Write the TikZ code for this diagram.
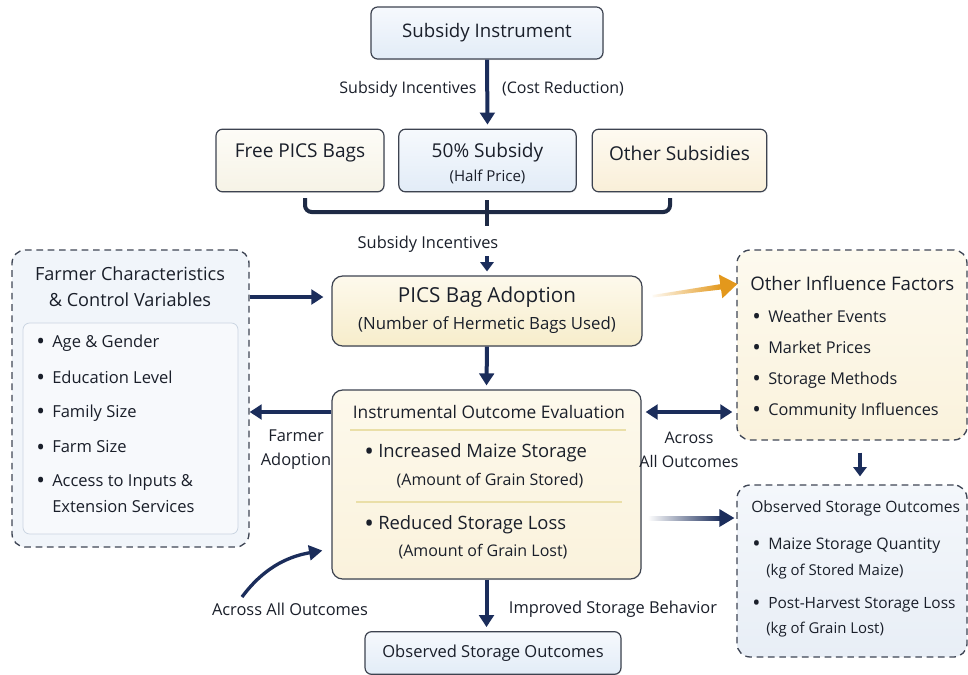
\documentclass[tikz,border=0pt]{standalone}
\usepackage{fontspec}
\setmainfont{Open Sans}
\usetikzlibrary{arrows.meta,shadows,calc}
\definecolor{navy}{HTML}{1B2D5B}
\definecolor{bord}{HTML}{3D4350}
\definecolor{dashc}{HTML}{3F4655}
\definecolor{txt}{HTML}{1A1F2A}
\definecolor{siT}{HTML}{F6F9FD}
\definecolor{siB}{HTML}{E2ECF7}
\definecolor{frT}{HTML}{FDFCF7}
\definecolor{frB}{HTML}{F6F3E6}
\definecolor{otT}{HTML}{FEFAF1}
\definecolor{otB}{HTML}{F9EFD8}
\definecolor{pkT}{HTML}{FDF9EC}
\definecolor{pkB}{HTML}{F7EDCB}
\definecolor{faF}{HTML}{F1F5FA}
\definecolor{inF}{HTML}{F7F9FC}
\definecolor{inB}{HTML}{CAD4E1}
\definecolor{oiT}{HTML}{FDFAEF}
\definecolor{oiB}{HTML}{FAF2DC}
\definecolor{orT}{HTML}{F4F7FB}
\definecolor{orB}{HTML}{E8EEF6}
\definecolor{sepc}{HTML}{EADFA8}
\definecolor{brk}{HTML}{1E2A45}
\definecolor{orng}{HTML}{E3981C}
\newcommand\bdot{\raisebox{-0.13em}{\scalebox{1.4}{•}}}
\newcommand\bulitem{\makebox[12pt][l]{\bdot}}
\newcommand\bulsmall{\makebox[10.5pt][l]{\bdot}}
\begin{document}
\begin{tikzpicture}[x=0.75pt,y=-0.75pt,
 fs/.style 2 args={font=\fontsize{#1}{#2}\selectfont},
 every node/.append style={text=txt},
 box/.style={draw=bord, line width=0.9pt, rounded corners=5pt, inner sep=0pt,
   drop shadow={opacity=0.12,shadow xshift=0.6pt,shadow yshift=-0.8pt}},
 dbox/.style={draw=dashc, line width=1pt, dash pattern=on 5pt off 3.5pt, rounded corners=10pt, inner sep=0pt},
 arr/.style={draw=navy, line width=3pt, -{Triangle[length=9pt,width=11pt]}},
 lbl/.style={fs={12.3}{18}, align=center, inner sep=0pt},
 bul/.style={anchor=west, fs={12.4}{14}, inner sep=0pt},
 sep/.style={draw=sepc, line width=0.8pt},
]
\fill[white] (0,0) rectangle (968,675);
\useasboundingbox (0,0) rectangle (968,675);

% top
\node[box, top color=siT, bottom color=siB, minimum width=174pt, minimum height=39pt, fs={14}{16}] (si) at (487,33) {\raisebox{-1pt}{Subsidy Instrument}};

\node[box, top color=frT, bottom color=frB, minimum width=126pt, minimum height=47pt] (free) at (300,160.5) {};
\node[fs={14.3}{16}] (freet) at (300,153) {Free PICS Bags};
\node[box, top color=siT, bottom color=siB, minimum width=133pt, minimum height=47pt] (half) at (487.5,160.5) {};
\node[fs={14.3}{16}] (halft) at (487.5,153) {50\% Subsidy};
\node[fs={11.3}{13}] (halfs) at (487.5,177) {(Half Price)};
\node[box, top color=otT, bottom color=otB, minimum width=131pt, minimum height=47pt] (oth) at (679.5,160.5) {};
\node[fs={14.3}{16}] (otht) at (679.5,153) {Other Subsidies};

\draw[arr] (si.south) -- ([yshift=3pt]half.north);
\node[lbl, fs={12}{14}] (l1) at (408,89) {Subsidy Incentives};
\node[lbl, fs={12}{14}] (l2) at (563,89) {(Cost Reduction)};

% bracket
\coordinate (bl) at (305,198);
\coordinate (br) at (670,198);
\coordinate (bm) at (487,212);
\coordinate (bc) at (487,200);
\coordinate (bd) at (487,226);
\draw[brk, line width=3pt, rounded corners=5pt] (bl) -- (bl |- bm) -- (br |- bm) -- (br);
\draw[brk, line width=3pt] (bc) -- (bd);
\node[lbl, fs={12.3}{14}] (l3) at (428,244) {Subsidy Incentives};

% PICS adoption
\node[box, top color=pkT, bottom color=pkB, minimum width=232.5pt, minimum height=52.5pt, rounded corners=8pt] (pics) at (487,311) {};
\node[fs={15.5}{17}] (pict) at (487,297) {PICS Bag Adoption};
\node[fs={12.6}{14}] (pics2) at (487,325) {(Number of Hermetic Bags Used)};
\coordinate (sa) at (487,256);
\draw[draw=navy, line width=3pt, -{Triangle[length=7pt,width=10pt]}] (sa) -- ([yshift=3pt]pics.north);

% Farmer box
\node[dbox, fill=faF, minimum width=177.75pt, minimum height=222.75pt] (farm) at (130.5,398.5) {};
\node[fs={13.6}{19.5}, align=center] (farmt) at (130,287) {Farmer Characteristics\\\& Control Variables};
\node[draw=inB, line width=0.6pt, fill=inF, rounded corners=5pt, minimum width=161.25pt, minimum height=158.25pt, inner sep=0pt] (inner) at (130.5,428.5) {};
\node[bul] (f1) at (36,343) {\bulitem Age \& Gender};
\node[bul] (f2) at (36,378) {\bulitem Education Level};
\node[bul] (f3) at (36,413) {\bulitem Family Size};
\node[bul] (f4) at (36,448) {\bulitem Farm Size};
\node[bul] (f5) at (36,482) {\bulitem Access to Inputs \&};
\node[bul] (f6) at (52,507) {Extension Services};

% Other influence
\node[dbox, top color=oiT, bottom color=oiB, minimum width=172.5pt, minimum height=142.5pt] (oif) at (852,345) {};
\node[fs={14}{15}, anchor=west, inner sep=0pt] (oift) at (750,283) {Other Influence Factors};
\node[bul, fs={12.2}{14}] (o1) at (752,317) {\bulitem Weather Events};
\node[bul, fs={12.2}{14}] (o2) at (752,348) {\bulitem Market Prices};
\node[bul, fs={12.2}{14}] (o3) at (752,380) {\bulitem Storage Methods};
\node[bul, fs={12.2}{14}] (o4) at (752,411) {\bulitem Community Influences};

% Observed right
\node[dbox, top color=orT, bottom color=orB, minimum width=172.5pt, minimum height=129pt] (obsR) at (852,571) {};
\node[fs={11.7}{15}, anchor=west, inner sep=0pt] (obsRt) at (751,508) {Observed Storage Outcomes};
\node[bul, fs={11.9}{14}] (r1) at (752,546) {\bulitem Maize Storage Quantity};
\node[bul, fs={11.2}{13}] (r2) at (766,572) {(kg of Stored Maize)};
\node[bul, fs={11.6}{14}] (r3) at (752,605) {\bulitem Post-Harvest Storage Loss};
\node[bul, fs={11.2}{13}] (r4) at (766,630) {(kg of Grain Lost)};

% Instrumental
\node[box, top color=pkT, bottom color=oiB, minimum width=231.75pt, minimum height=141.75pt, rounded corners=8pt] (ioe) at (486.5,484.5) {};
\node[fs={13}{15}] (ioet) at (489,412) {Instrumental Outcome Evaluation};
\draw[sep] (350,430) -- (626,430);
\draw[sep] (356,502) -- (622,502);
\node[bul, fs={13.8}{16}] (i1) at (364,453) {\bulsmall Increased Maize Storage};
\node[fs={12}{14}] (i2) at (490,481) {(Amount of Grain Stored)};
\node[bul, fs={13.8}{16}] (i3) at (364,525) {\bulsmall Reduced Storage Loss};
\node[fs={12}{14}] (i4) at (483,552) {(Amount of Grain Lost)};

% Bottom
\node[box, top color=siT, bottom color=siB, minimum width=192pt, minimum height=32pt, fs={12.4}{14}] (obs) at (493,653) {Observed Storage Outcomes};

% arrows
\draw[arr] ($(farm.east|-pics)+(0,-14)$) -- ($(pics.west)+(-8,-14)$);
\draw[arr] (pics.south) -- ([yshift=3pt]ioe.north);
\draw[arr] (ioe.west |- ioet) -- (farm.east |- ioet);
\draw[draw=navy, line width=3pt, {Triangle[length=9pt,width=11pt]}-{Triangle[length=9pt,width=11pt]}, shorten <=3pt, shorten >=3pt] (ioe.east |- ioet) -- (oif.west |- ioet);
\draw[draw=navy, line width=3pt, -{Triangle[length=7pt,width=10pt]}] ($(oif.south)+(8,12)$) -- ($(obsR.north)+(8,-8)$);
\draw[arr, shorten >=3pt] (ioe.south) -- (ioe.south |- obs.north);

% gradient blue arrow
\coordinate (g1) at ($(ioe.east)+(6,34)$);
\coordinate (g2) at ($(obsR.west)+(-2,-53)$);
\shade[left color=white, right color=navy] ($(g1)+(0,-2)$) rectangle ($(g2)+(-13,2)$);
\fill[navy] ($(g2)+(-15,-9)$) -- (g2) -- ($(g2)+(-15,9)$) -- cycle;

% orange arrow
\coordinate (o0) at ($(pics.east)+(10,-15)$);
\coordinate (ot) at ($(oif.west)+(1,-61)$);
\shade[left color=orng!5, right color=orng] ($(o0)+(0,-1)$) -- ($(ot)+(-16,0)$) -- ($(ot)+(-16,5.5)$) -- ($(o0)+(0,1.5)$) -- cycle;
\fill[orng] ($(ot)+(-18.5,-9.5)$) -- (ot) -- ($(ot)+(-15,14.3)$) -- cycle;

% curved arrow
\coordinate (c1) at (242,597);
\draw[draw=navy, line width=2.5pt, -{Triangle[length=10pt,width=11pt]}] (c1) .. controls (262,570) and (285,557) .. ($(ioe.west)+(-9,66)$);

% labels
\node[lbl] (fad) at (296,450) {Farmer\\Adoption};
\node[lbl, fs={12}{18}] (aao) at (689,450) {Across\\All Outcomes};
\node[lbl] (aao2) at (290,609) {Across All Outcomes};
\node[lbl] (isb) at (613,609) {Improved Storage Behavior};
\end{tikzpicture}
\end{document}
